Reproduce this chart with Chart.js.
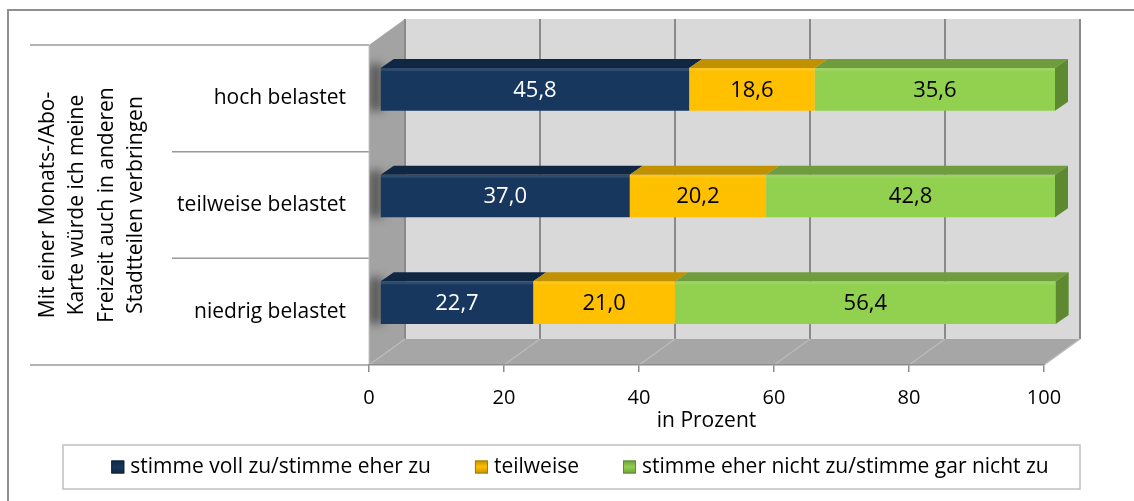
<!DOCTYPE html>
<html lang="de">
<head>
<meta charset="utf-8">
<title>Monats-/Abo-Karte</title>
<script src="https://cdn.jsdelivr.net/npm/chart.js@4/dist/chart.umd.min.js"></script>
<style>
  html, body { margin: 0; padding: 0; background: #fff; }
  #chart { display: block; }
</style>
</head>
<body>
<canvas id="chart" width="1134" height="501"></canvas>
<script>
// Daten
const kategorien = ['hoch belastet', 'teilweise belastet', 'niedrig belastet'];
const stimmeZu = [45.8, 37.0, 22.7];
const teilweise = [18.6, 20.2, 21.0];
const stimmeNichtZu = [35.6, 42.8, 56.4];
const reihenNamen = ['stimme voll zu/stimme eher zu', 'teilweise', 'stimme eher nicht zu/stimme gar nicht zu'];
const achsenWerte = [0, 20, 40, 60, 80, 100];
const achsenTitel = 'in Prozent';
const fragenZeilen = ['Mit einer Monats-/Abo-', 'Karte würde ich meine', 'Freizeit auch in anderen', 'Stadtteilen verbringen'];

// Farben je Reihe: Vorderseite, Oberseite, Seite
const farben = [
    { front: '#17375e', top: '#0f2743', side: '#0c203a', text: '#ffffff' },
    { front: '#ffc000', top: '#c29100', side: '#a67c00', text: '#000000' },
    { front: '#92d050', top: '#6f9d3d', side: '#5d8a30', text: '#000000' }
];

const SCHRIFT = "'Open Sans', sans-serif";
const RAUM = { dx: 36, dy: -26 };          // Tiefe von Boden und Seitenwand
const VERSATZ = { dx: 11, dy: -9 };        // Lage der Balken im Raum
const BALKEN = { dx: 13, dy: -9 };         // Tiefe der Balken

Chart.defaults.font.family = SCHRIFT;
Chart.defaults.color = '#000';

function fmt(v) {
    return v.toFixed(1).replace('.', ',');
}

function balkenRechteck(bar) {
    const l = Math.min(bar.base, bar.x) + VERSATZ.dx;
    const r = Math.max(bar.base, bar.x) + VERSATZ.dx;
    const t = bar.y - bar.height / 2 + VERSATZ.dy;
    const b = bar.y + bar.height / 2 + VERSATZ.dy;
    return { l, r, t, b };
}

function poly(ctx, pts, fill) {
    ctx.beginPath();
    ctx.moveTo(pts[0][0], pts[0][1]);
    for (let i = 1; i < pts.length; i++) ctx.lineTo(pts[i][0], pts[i][1]);
    ctx.closePath();
    ctx.fillStyle = fill;
    ctx.fill();
}

// Rahmen, Tabelle links, Wände und Boden
const raumPlugin = {
    id: 'raum',
    beforeDraw(chart) {
        const { ctx, chartArea: a, scales } = chart;
        const xs = scales.x;
        ctx.save();
        ctx.fillStyle = '#fff';
        ctx.fillRect(0, 0, chart.width, chart.height);

        // äußerer Rahmen
        ctx.strokeStyle = '#8f8f8f';
        ctx.lineWidth = 2;
        ctx.beginPath();
        ctx.moveTo(8, chart.height);
        ctx.lineTo(8, 10);
        ctx.lineTo(chart.width, 10);
        ctx.stroke();

        // Linien zwischen den Kategorien
        const band = (a.bottom - a.top) / kategorien.length;
        ctx.strokeStyle = '#9a9a9a';
        ctx.lineWidth = 1.5;
        for (let k = 0; k <= kategorien.length; k++) {
            const y = a.top + k * band;
            const x0 = (k === 0 || k === kategorien.length) ? 30 : 172;
            ctx.beginPath();
            ctx.moveTo(x0, y);
            ctx.lineTo(a.left, y);
            ctx.stroke();
        }

        const x0 = xs.getPixelForValue(achsenWerte[0]);
        const x1 = xs.getPixelForValue(achsenWerte[achsenWerte.length - 1]);

        // Rückwand
        ctx.fillStyle = '#d9d9d9';
        ctx.fillRect(x0 + RAUM.dx, a.top + RAUM.dy, x1 - x0, a.bottom - a.top);

        // Seitenwand links
        poly(ctx, [[x0, a.top], [x0 + RAUM.dx, a.top + RAUM.dy], [x0 + RAUM.dx, a.bottom + RAUM.dy], [x0, a.bottom]], '#a3a3a3');

        // Schatten der Balken auf der Seitenwand
        ctx.save();
        ctx.beginPath();
        ctx.moveTo(x0, a.top);
        ctx.lineTo(x0 + RAUM.dx, a.top + RAUM.dy);
        ctx.lineTo(x0 + RAUM.dx, a.bottom + RAUM.dy);
        ctx.lineTo(x0, a.bottom);
        ctx.closePath();
        ctx.clip();
        ctx.filter = 'blur(5px)';
        ctx.fillStyle = 'rgba(30,30,30,0.55)';
        chart.getDatasetMeta(0).data.forEach(bar => {
            const r = balkenRechteck(bar);
            ctx.fillRect(r.l - 12, r.t - 4, 14, r.b - r.t + 4);
        });
        ctx.restore();

        // Boden
        poly(ctx, [[x0, a.bottom], [x1, a.bottom], [x1 + RAUM.dx, a.bottom + RAUM.dy], [x0 + RAUM.dx, a.bottom + RAUM.dy]], '#a6a6a6');

        // Gitterlinien an Rückwand und Boden
        achsenWerte.forEach(v => {
            const x = xs.getPixelForValue(v);
            ctx.strokeStyle = '#8a8a8a';
            ctx.lineWidth = 2;
            ctx.beginPath();
            ctx.moveTo(x + RAUM.dx, a.top + RAUM.dy);
            ctx.lineTo(x + RAUM.dx, a.bottom + RAUM.dy);
            ctx.stroke();
            ctx.strokeStyle = '#bcbcbc';
            ctx.lineWidth = 1.2;
            ctx.beginPath();
            ctx.moveTo(x, a.bottom);
            ctx.lineTo(x + RAUM.dx, a.bottom + RAUM.dy);
            ctx.stroke();
        });

        // Vorderkante der Seitenwand
        ctx.strokeStyle = '#c4c4c4';
        ctx.lineWidth = 1;
        ctx.beginPath();
        ctx.moveTo(x0, a.top);
        ctx.lineTo(x0, a.bottom);
        ctx.stroke();
        ctx.restore();
    },
    beforeDatasetsDraw(chart) {
        chart.ctx.save();
        chart.ctx.translate(VERSATZ.dx, VERSATZ.dy);
    },
    afterDatasetsDraw(chart) {
        const ctx = chart.ctx;
        ctx.restore();
        ctx.save();
        const n = chart.data.datasets.length;
        chart.data.datasets.forEach((ds, di) => {
            const meta = chart.getDatasetMeta(di);
            const f = farben[di];
            meta.data.forEach(bar => {
                const r = balkenRechteck(bar);
                // Oberseite
                poly(ctx, [[r.l, r.t], [r.r, r.t], [r.r + BALKEN.dx, r.t + BALKEN.dy], [r.l + BALKEN.dx, r.t + BALKEN.dy]], f.top);
                // Lichtkante oben an der Vorderseite
                ctx.fillStyle = 'rgba(255,255,255,0.10)';
                ctx.fillRect(r.l, r.t, r.r - r.l, 3);
                // rechte Seite am Ende des Stapels
                if (di === n - 1) {
                    poly(ctx, [[r.r, r.t], [r.r + BALKEN.dx, r.t + BALKEN.dy], [r.r + BALKEN.dx, r.b + BALKEN.dy], [r.r, r.b]], f.side);
                }
            });
        });
        // Werte in den Balken
        ctx.font = '22px ' + SCHRIFT;
        ctx.textAlign = 'center';
        ctx.textBaseline = 'middle';
        chart.data.datasets.forEach((ds, di) => {
            chart.getDatasetMeta(di).data.forEach((bar, i) => {
                const r = balkenRechteck(bar);
                ctx.fillStyle = farben[di].text;
                ctx.fillText(fmt(ds.data[i]), (r.l + r.r) / 2, (r.t + r.b) / 2 + 1);
            });
        });
        ctx.restore();
    },
    afterDraw(chart) {
        // Legende mit Rahmen
        const ctx = chart.ctx;
        const box = { l: 63, t: 445, r: 1080, b: 489 };
        ctx.save();
        ctx.strokeStyle = '#c0c0c0';
        ctx.lineWidth = 1.5;
        ctx.strokeRect(box.l, box.t, box.r - box.l, box.b - box.t);
        ctx.font = '21px ' + SCHRIFT;
        ctx.textBaseline = 'middle';
        ctx.textAlign = 'left';
        const mark = 13, gap = 6, abstand = 44;
        const breiten = chart.data.datasets.map(ds => ctx.measureText(ds.label).width);
        const gesamt = breiten.reduce((s, w) => s + mark + gap + w, 0) + abstand * (breiten.length - 1);
        let x = 580 - gesamt / 2;
        const yc = (box.t + box.b) / 2;
        chart.data.datasets.forEach((ds, di) => {
            const f = farben[di];
            const g = ctx.createLinearGradient(0, yc - mark / 2, 0, yc + mark / 2);
            g.addColorStop(0, f.top);
            g.addColorStop(0.5, f.front);
            g.addColorStop(1, f.top);
            ctx.fillStyle = g;
            ctx.fillRect(x, yc - mark / 2, mark, mark);
            ctx.strokeStyle = f.side;
            ctx.lineWidth = 1;
            ctx.strokeRect(x + 0.5, yc - mark / 2 + 0.5, mark - 1, mark - 1);
            ctx.fillStyle = '#000';
            ctx.fillText(ds.label, x + mark + gap, yc);
            x += mark + gap + breiten[di] + abstand;
        });
        ctx.restore();
    }
};

const ctx = document.getElementById('chart').getContext('2d');
const chart = new Chart(ctx, {
    type: 'bar',
    data: {
        labels: kategorien,
        datasets: [
            { label: reihenNamen[0], data: stimmeZu, backgroundColor: farben[0].front },
            { label: reihenNamen[1], data: teilweise, backgroundColor: farben[1].front },
            { label: reihenNamen[2], data: stimmeNichtZu, backgroundColor: farben[2].front }
        ]
    },
    options: {
        indexAxis: 'y',
        responsive: false,
        devicePixelRatio: 1,
        animation: false,
        layout: { padding: { left: 30, right: 90, top: 45, bottom: 67 } },
        datasets: {
            bar: { barPercentage: 0.4, categoryPercentage: 1.0, borderWidth: 0, clip: false }
        },
        plugins: {
            legend: { display: false },
            tooltip: { enabled: false }
        },
        scales: {
            x: {
                type: 'linear',
                stacked: true,
                min: achsenWerte[0],
                max: achsenWerte[achsenWerte.length - 1],
                afterBuildTicks: s => { s.ticks = achsenWerte.map(v => ({ value: v })); },
                afterFit: s => { s.height = 69; },
                grid: { drawOnChartArea: false, drawTicks: true, tickLength: 7, color: '#8c8c8c', lineWidth: 1.5 },
                border: { display: true, color: '#8c8c8c', width: 1.5 },
                ticks: { padding: 14, font: { size: 20 }, color: '#000' },
                title: { display: true, text: achsenTitel, font: { size: 21 }, color: '#000', padding: { top: 0, bottom: 0 } }
            },
            y: {
                type: 'category',
                stacked: true,
                afterFit: s => { s.width = 339; },
                grid: { display: false, drawTicks: false },
                border: { display: false },
                ticks: { padding: 23, font: { size: 21 }, color: '#000' },
                title: {
                    display: true,
                    text: fragenZeilen,
                    font: { size: 21, lineHeight: 1.405 },
                    color: '#000',
                    padding: { top: 3, bottom: 0 }
                }
            }
        }
    },
    plugins: [raumPlugin]
});
</script>
</body>
</html>
